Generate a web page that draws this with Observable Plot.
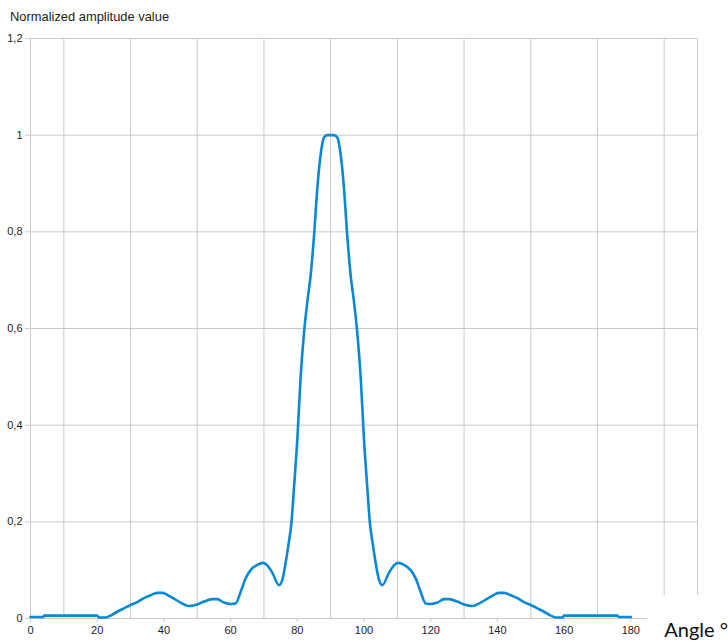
<!DOCTYPE html>
<html>
<head>
<meta charset="utf-8">
<script src="https://cdn.jsdelivr.net/npm/d3@7"></script>
<script src="https://cdn.jsdelivr.net/npm/@observablehq/plot@0.6"></script>
<style>
  html, body { margin: 0; padding: 0; background: #fff; }
  #wrap { position: relative; width: 728px; height: 644px; overflow: hidden; }
  #title { position: absolute; left: 10px; top: 9px; font: 12.9px "Liberation Sans", Arial, sans-serif; color: #222; white-space: nowrap; }
  #xlabel { position: absolute; left: 647px; top: 595px; width: 81px; height: 49px; background: #fff;
            font: 20px Lato, "Open Sans", sans-serif; color: #111; text-align: right; line-height: 20px;
            box-sizing: border-box; padding-top: 24px; white-space: nowrap; }
</style>
</head>
<body>
<div id="wrap">
  <div id="chart"></div>
  <div id="title">Normalized amplitude value</div>
  <div id="xlabel">Angle °</div>
</div>
<script>
const angles = [0, 3.9, 4, 10, 20, 20.5, 22.5, 24, 26, 28, 30, 32, 34, 36, 38, 39.5, 41, 43, 45, 47.5,
  50, 52, 54.5, 56, 58, 60, 61.5, 63, 64.5, 66, 68, 69.8, 71, 72.5, 74.5, 75.5, 76.5, 77.5, 78.2, 79,
  80, 81, 82, 83, 84, 85, 86, 87, 88, 89, 91, 92, 93, 94, 95, 96, 97, 98, 99, 100,
  101, 101.8, 102.5, 103.5, 104.5, 105.5, 107.5, 109, 110.2, 112, 114, 115.5, 117, 118.5, 120, 122, 124, 125.5, 128, 130,
  132.5, 135, 137, 139, 140.5, 142, 144, 146, 148, 150, 152, 154, 156, 157.5, 159.5, 160, 176, 176.3, 180];
const values = [0.003, 0.003, 0.006, 0.006, 0.006, 0.002, 0.002, 0.006, 0.014, 0.021, 0.028, 0.034, 0.042, 0.048, 0.053, 0.053, 0.049, 0.041, 0.033, 0.026,
  0.029, 0.035, 0.040, 0.040, 0.033, 0.030, 0.031, 0.055, 0.083, 0.100, 0.111, 0.115, 0.110, 0.095, 0.069, 0.080, 0.115, 0.16, 0.195, 0.27,
  0.37, 0.50, 0.59, 0.655, 0.71, 0.79, 0.89, 0.96, 0.995, 1.0, 1.0, 0.995, 0.96, 0.89, 0.79, 0.71, 0.655, 0.59, 0.50, 0.37,
  0.27, 0.195, 0.16, 0.115, 0.080, 0.069, 0.095, 0.110, 0.115, 0.111, 0.100, 0.083, 0.055, 0.031, 0.030, 0.033, 0.040, 0.040, 0.035, 0.029,
  0.026, 0.033, 0.041, 0.049, 0.053, 0.053, 0.048, 0.042, 0.034, 0.028, 0.021, 0.014, 0.006, 0.002, 0.002, 0.006, 0.006, 0.003, 0.003];

const xTicks = [0, 20, 40, 60, 80, 100, 120, 140, 160, 180];
const yTicks = [0, 0.2, 0.4, 0.6, 0.8, 1, 1.2];
const gridX = [0, 10, 30, 50, 70, 90, 110, 130, 150, 170, 190, 200];
const gridY = [0, 0.2, 0.4, 0.6, 0.8, 1, 1.2];

const data = angles.map((a, i) => ({angle: a, value: values[i]}));
const gridColor = "#c9c9c9";

const chart = Plot.plot({
  width: 728,
  height: 644,
  marginLeft: 30,
  marginRight: 31,
  marginTop: 38,
  marginBottom: 26,
  x: {domain: [0, 200]},
  y: {domain: [0, 1.2]},
  style: {fontFamily: "'Liberation Sans', Arial, sans-serif", fontSize: "11px", color: "#222", background: "#fff"},
  marks: [
    Plot.ruleX(gridX, {stroke: gridColor, strokeWidth: 1}),
    Plot.ruleY(gridY, {stroke: gridColor, strokeWidth: 1}),
    Plot.axisX({ticks: xTicks, tickSize: 4, tickPadding: 4, tickFormat: d => String(d), label: null, stroke: gridColor}),
    Plot.axisY({ticks: yTicks, tickSize: 5, tickPadding: 3, tickFormat: d => String(d).replace(".", ","), label: null, stroke: gridColor}),
    Plot.line(data, {x: "angle", y: "value", stroke: "#0a88d4", strokeWidth: 2.6, curve: "monotone-x"})
  ]
});
document.getElementById("chart").appendChild(chart);
</script>
</body>
</html>
